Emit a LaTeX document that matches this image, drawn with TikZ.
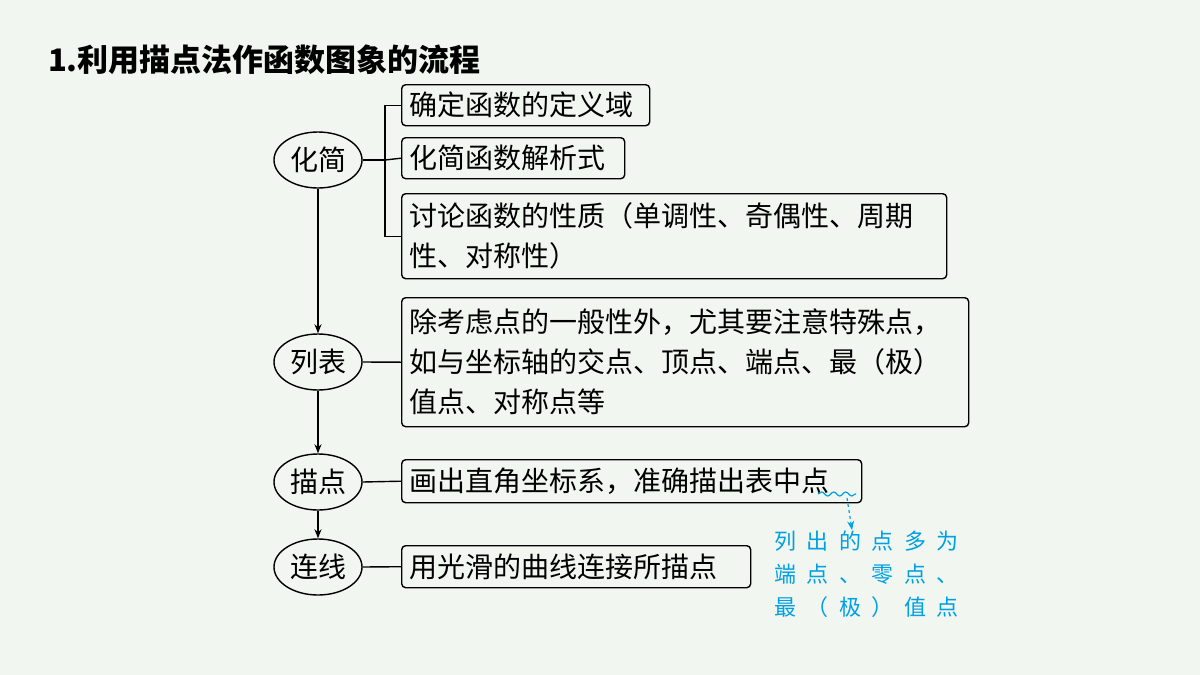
\documentclass[tikz,border=0pt]{standalone}
\usepackage{fontspec}
\setmainfont{Noto Sans CJK SC}
\usetikzlibrary{decorations.pathmorphing,arrows.meta,shapes.geometric}
\definecolor{bg}{RGB}{241,246,241}
\definecolor{anno}{RGB}{0,160,225}
\begin{document}
\begin{tikzpicture}[x=1pt,y=-1pt,line width=1.4pt,
  ell/.style={draw,ellipse,minimum width=88pt,minimum height=56pt,inner sep=0pt,font=\fontsize{28}{30}\selectfont},
  bx/.style={draw,rounded corners=4pt,anchor=north west,inner xsep=8pt,inner ysep=3pt,align=left,font=\fontsize{28}{40}\selectfont},
  ln/.style={},
  ar/.style={-{Stealth[length=9pt,width=7pt]}}]
\fill[bg] (0,0) rectangle (1200,675);
\useasboundingbox (0,0) rectangle (1200,675);
\node[anchor=west,font=\bfseries\fontsize{31}{34}\selectfont] (title) at (44,60) {1.利用描点法作函数图象的流程};
\node[ell] (e1) at (318,160) {化简};
\node[ell] (e2) at (318,362) {列表};
\node[ell] (e3) at (318,482) {描点};
\node[ell] (e4) at (318,567) {连线};
\node[bx,text width=232pt,minimum height=41pt] (b1) at (401,84) {确定函数的定义域};
\node[bx,text width=207pt,minimum height=41pt] (b2) at (401,137) {化简函数解析式};
\node[bx,text width=529pt,minimum height=85pt] (b3) at (401,193) {讨论函数的性质（单调性、奇偶性、周期\\性、对称性）};
\node[bx,text width=551pt,minimum height=129pt] (b4) at (401,297) {除考虑点的一般性外，尤其要注意特殊点，\\如与坐标轴的交点、顶点、端点、最（极）\\值点、对称点等};
\node[bx,text width=444pt,minimum height=43pt] (b5) at (401,459) {画出直角坐标系，准确描出表中点};
\node[bx,text width=333pt,minimum height=42pt] (b6) at (401,545) {用光滑的曲线连接所描点};
\coordinate (br) at (385,160);
\draw[ln] (e1.east) -- (br);
\draw[ln] (b1.west) -| (br) |- (b3.west);
\draw[ln] (br) -- (b2.west);
\draw[ln] (e2.east) -- (b4.west);
\draw[ln] (e3.east) -- (b5.west);
\draw[ln] (e4.east) -- (b6.west);
\draw[ar] (e1.south) -- (e2.north);
\draw[ar] (e2.south) -- (e3.north);
\draw[ar] (e3.south) -- (e4.north);
\coordinate (w1) at (818,494);
\coordinate (w2) at (856,494);
\draw[anno,line width=1.2pt,decorate,decoration={snake,amplitude=2pt,segment length=12pt}] (w1) -- (w2);
\coordinate (a1) at (847,498);
\coordinate (a2) at (852,530);
\node[anchor=north west,text=anno,align=left,font=\fontsize{22}{33}\selectfont\addfontfeature{LetterSpace=48}] (note) at (770,527) {列出的点多为\\端点、零点、\\最（极）值点};
\draw[anno,line width=1.2pt,dashed,-{Stealth[length=9pt,width=7pt]}] (a1) -- (a2);
\end{tikzpicture}
\end{document}
